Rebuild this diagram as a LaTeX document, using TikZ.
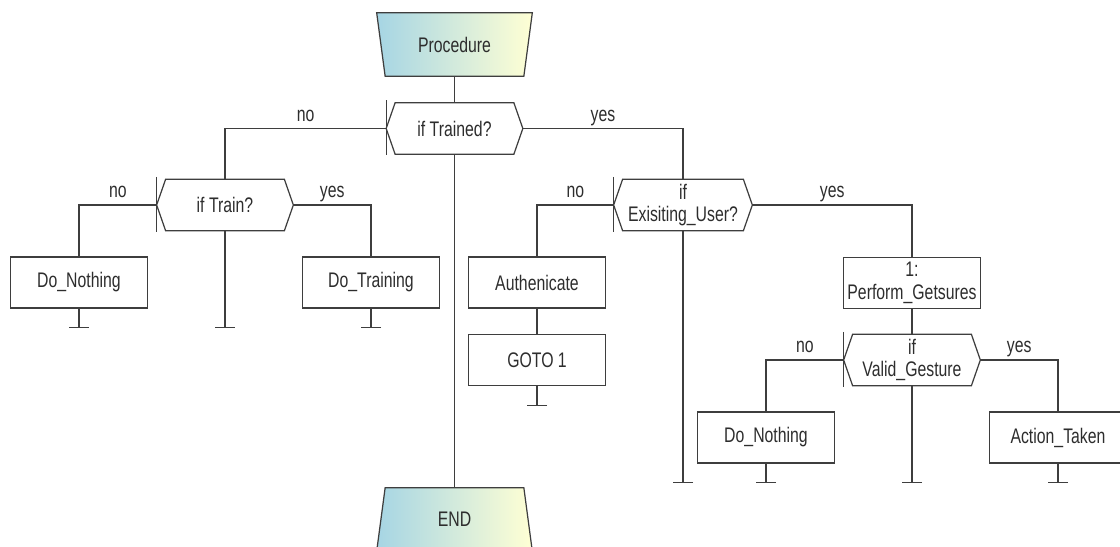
\documentclass[tikz,border=0pt]{standalone}
\usepackage{fontspec}
\newfontfamily\flowfont[FakeStretch=0.75]{Liberation Sans}
\usetikzlibrary{calc,arrows.meta}
\definecolor{linegray}{RGB}{62,62,62}
\definecolor{inkgray}{RGB}{45,45,45}
\definecolor{termblue}{RGB}{166,213,228}
\definecolor{termyellow}{RGB}{255,255,212}
\pgfdeclarelayer{background}
\pgfsetlayers{background,main}
\tikzset{
  flowline/.style={draw=linegray, line width=0.7pt},
  flowtext/.style={font=\flowfont\fontsize{12}{13}\selectfont, text=inkgray, align=center, inner sep=0pt},
  flowlabel/.style={flowtext, anchor=base, yshift=4pt},
  actbox/.style={flowtext, flowline, minimum width=2.74cm, minimum height=1.02cm},
  decision/.style={flowtext, minimum width=2.36cm, minimum height=1.02cm},
  terminal/.style={flowtext, minimum width=2.76cm, minimum height=1.26cm},
  ground/.style={flowline, -{Bar[width=0.4cm]}}
}
\begin{document}
\begin{tikzpicture}[x=0.02cm,y=-0.02cm]
  \clip (0,0) rectangle (1120,547);
  % terminals
  \node[terminal] (proc) at (454.5,44.5) {Procedure};
  \node[terminal] (endn) at (454.5,519.5) {END};
  % decisions
  \node[decision] (trained) at (454.5,128.5) {if Trained?};
  \node[decision] (train) at (225,205) {if Train?};
  \node[decision, minimum width=2.4cm] (user) at (683,205) {if\\Exisiting\_User?};
  \node[decision] (valid) at (912,360) {if\\Valid\_Gesture};
  % actions
  \node[actbox] (nothingA) at (79,282.5) {Do\_Nothing};
  \node[actbox] (training) at (371,282.5) {Do\_Training};
  \node[actbox] (auth) at (537,282.5) {Authenicate};
  \node[actbox] (goto) at (537,360) {GOTO 1};
  \node[actbox] (perform) at (912,283) {1:\\Perform\_Getsures};
  \node[actbox] (nothingB) at (766,437.5) {Do\_Nothing};
  \node[actbox] (taken) at (1058,437.5) {Action\_Taken};
  % stops
  \coordinate (stopA) at (79,328);
  \coordinate (stopB) at (225,328);
  \coordinate (stopC) at (371,328);
  \coordinate (stopD) at (537,406);
  \coordinate (stopE) at (683,483);
  \coordinate (stopF) at (766,483);
  \coordinate (stopG) at (912,483);
  \coordinate (stopH) at (1058,483);

  % terminal shapes
  \begin{pgfonlayer}{background}
    \shadedraw[flowline, left color=termblue, right color=termyellow]
      ($(proc.north west)+(-8.5,0)$) -- ($(proc.north east)+(8.5,0)$) -- (proc.south east) -- (proc.south west) -- cycle;
    \shadedraw[flowline, left color=termblue, right color=termyellow]
      (endn.north west) -- (endn.north east) -- ($(endn.south east)+(8.5,0)$) -- ($(endn.south west)+(-8.5,0)$) -- cycle;
  \end{pgfonlayer}
  % decision shapes
  \foreach \d in {trained,train,user,valid} {
    \draw[flowline] (\d.north west) -- (\d.north east) -- ($(\d.east)+(9,0)$) -- (\d.south east)
      -- (\d.south west) -- ($(\d.west)+(-9,0)$) -- cycle;
    \draw[flowline] ($(\d.west)+(-9,-28)$) -- ($(\d.west)+(-9,27)$);
  }

  % connectors
  \draw[flowline] (proc.south) -- (trained.north);
  \draw[flowline] (trained.south) -- (endn.north);
  \draw[flowline] ($(trained.west)+(-9,0)$) -| (train.north) node[flowlabel, pos=0.25] {no};
  \draw[flowline] ($(trained.east)+(9,0)$) -| (user.north) node[flowlabel, pos=0.25] {yes};
  \draw[flowline] ($(train.west)+(-9,0)$) -| (nothingA.north) node[flowlabel, pos=0.25] {no};
  \draw[flowline] ($(train.east)+(9,0)$) -| (training.north) node[flowlabel, pos=0.25] {yes};
  \draw[flowline] ($(user.west)+(-9,0)$) -| (auth.north) node[flowlabel, pos=0.25] {no};
  \draw[flowline] ($(user.east)+(9,0)$) -| (perform.north) node[flowlabel, pos=0.25] {yes};
  \draw[flowline] ($(valid.west)+(-9,0)$) -| (nothingB.north) node[flowlabel, pos=0.25] {no};
  \draw[flowline] ($(valid.east)+(9,0)$) -| (taken.north) node[flowlabel, pos=0.25] {yes};
  \draw[flowline] (auth.south) -- (goto.north);
  \draw[flowline] (perform.south) -- (valid.north);
  % ends
  \draw[ground] (nothingA.south) -- (stopA);
  \draw[ground] (train.south) -- (stopB);
  \draw[ground] (training.south) -- (stopC);
  \draw[ground] (goto.south) -- (stopD);
  \draw[ground] (user.south) -- (stopE);
  \draw[ground] (nothingB.south) -- (stopF);
  \draw[ground] (valid.south) -- (stopG);
  \draw[ground] (taken.south) -- (stopH);
\end{tikzpicture}
\end{document}
